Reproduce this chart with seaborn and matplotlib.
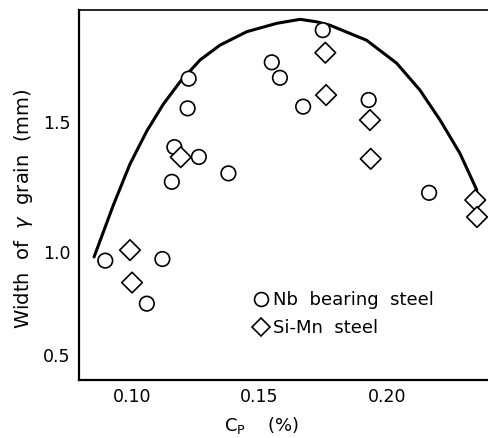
import numpy as np
import pandas as pd
import matplotlib
matplotlib.use('Agg')
import matplotlib.pyplot as plt
import seaborn as sns
from matplotlib.lines import Line2D

# values
nb_cp = [0.1222, 0.1218, 0.1166, 0.1262, 0.1156, 0.1378, 0.1548, 0.1580,
         0.1671, 0.1748, 0.1928, 0.2165, 0.0895, 0.1119, 0.1058]
nb_width = [1.650, 1.548, 1.410, 1.374, 1.281, 1.313, 1.705, 1.653,
            1.554, 1.811, 1.577, 1.239, 0.963, 0.970, 0.768]

simn_cp = [0.1191, 0.1758, 0.1761, 0.1933, 0.1936, 0.2346, 0.2353, 0.0992, 0.1000]
simn_width = [1.373, 1.737, 1.594, 1.507, 1.367, 1.211, 1.144, 1.008, 0.866]

# hand drawn curve
curve_cp = [0.0851, 0.0927, 0.0992, 0.1058, 0.1123, 0.1188, 0.1267, 0.1345,
            0.1450, 0.1567, 0.1659, 0.1724, 0.1776, 0.1920, 0.2038, 0.2129,
            0.2208, 0.2286, 0.2352]
curve_width = [0.979, 1.192, 1.348, 1.468, 1.563, 1.639, 1.713, 1.762,
               1.806, 1.833, 1.846, 1.838, 1.827, 1.778, 1.702, 1.611,
               1.507, 1.387, 1.250]

lab_nb = 'Nb  bearing  steel'
lab_simn = 'Si-Mn  steel'

df = pd.DataFrame({
    'cp': nb_cp + simn_cp,
    'width': nb_width + simn_width,
    'steel': [lab_nb] * len(nb_cp) + [lab_simn] * len(simn_cp),
})
curve = pd.DataFrame({'cp': curve_cp, 'width': curve_width})

sns.set_style('white')
plt.rcParams['font.family'] = ['DejaVu Sans']
plt.rcParams['text.color'] = 'black'
plt.rcParams['axes.labelcolor'] = 'black'
plt.rcParams['xtick.color'] = 'black'
plt.rcParams['ytick.color'] = 'black'

fig = plt.figure(figsize=(4.88, 4.38), dpi=100)
ax = fig.add_axes([0.1619, 0.1324, 0.8381, 0.8448])

# the printed y axis is not evenly spaced
p = 1.45
ax.set_yscale('function', functions=(lambda v: np.abs(v) ** p,
                                     lambda v: np.abs(v) ** (1 / p)))

sns.lineplot(data=curve, x='cp', y='width', color='black', lw=2.2,
             sort=False, ax=ax, zorder=2)
sns.scatterplot(data=df, x='cp', y='width', style='steel',
                markers={lab_nb: 'o', lab_simn: 'D'},
                s=110, facecolor='white', edgecolor='black',
                linewidth=1.2, ax=ax, zorder=3, legend=False)

ax.set_xlim(0.0792, 0.2396)
ax.set_ylim(0.343, 1.876)
ax.set_xticks([0.10, 0.15, 0.20])
ax.set_xticklabels(['0.10', '0.15', '0.20'])
ax.set_yticks([0.5, 1.0, 1.5])
ax.set_yticklabels(['0.5', '1.0', '1.5'])
ax.tick_params(direction='in', length=8, width=1, labelsize=12.5, pad=6)

for s in ['left', 'bottom']:
    ax.spines[s].set_linewidth(1.6)
    ax.spines[s].set_color('black')
ax.spines['top'].set_linewidth(1.2)
ax.spines['top'].set_color('black')
ax.spines['right'].set_visible(False)

ax.set_xlabel(r'C$_\mathrm{P}$    (%)', fontsize=13, labelpad=6)
ax.xaxis.label.set_x(0.447)
ax.set_ylabel(r'Width  of  $\gamma$  grain  (mm)', fontsize=14, labelpad=6)
ax.yaxis.label.set_y(0.462)

# legend
handles = [Line2D([], [], marker='o', ls='none', mfc='white', mec='black',
                  mew=1.2, ms=10),
           Line2D([], [], marker='D', ls='none', mfc='white', mec='black',
                  mew=1.2, ms=9)]
ax.legend(handles, [lab_nb, lab_simn], frameon=False, fontsize=13,
          loc='upper left', bbox_to_anchor=(0.40, 0.265), handletextpad=0.2,
          labelspacing=0.55, borderpad=0, handlelength=1.0)

fig.savefig('out.png', dpi=100)
